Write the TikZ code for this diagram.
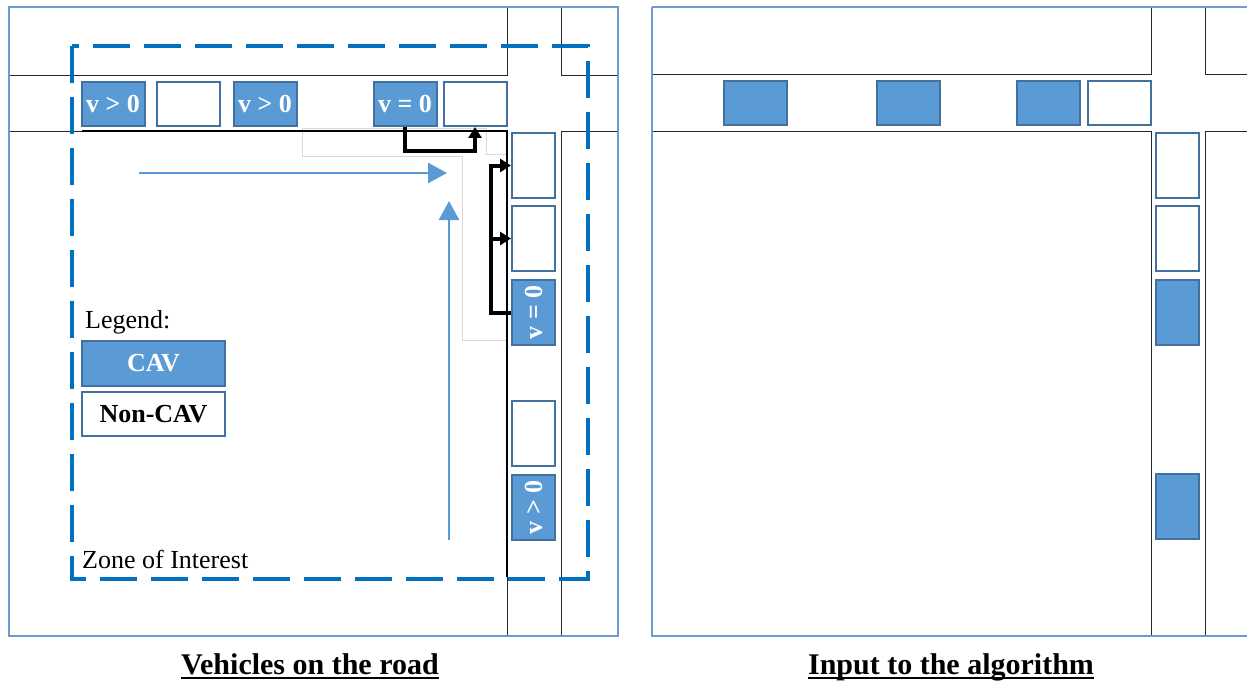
\documentclass[tikz,border=0pt]{standalone}
\usepackage{fontspec}
\setmainfont{Liberation Serif}
\usetikzlibrary{arrows.meta}
\definecolor{cavfill}{HTML}{5B9BD5}
\definecolor{cavedge}{HTML}{41719C}
\definecolor{framec}{HTML}{6C9BD2}
\definecolor{zonec}{HTML}{0070C0}
\definecolor{roadc}{HTML}{262626}
\definecolor{guidec}{HTML}{D9D9D9}
\definecolor{flowc}{HTML}{5B9BD5}

\begin{document}
\begin{tikzpicture}[x=1pt,y=-1pt,
  carbase/.style={draw=cavedge, line width=2pt, inner sep=0pt},
  cav/.style={carbase, fill=cavfill, text=white, font=\bfseries\fontsize{26}{26}\selectfont},
  noncav/.style={carbase, fill=white},
  hcar/.style={minimum width=63pt, minimum height=44pt},
  vcar/.style={minimum width=43pt, minimum height=65pt},
  road/.style={draw=roadc, line width=0.9pt},
  panel/.style={draw=framec, line width=2pt},
  guide/.style={draw=guidec, line width=0.8pt},
  zone/.style={draw=zonec, line width=4pt, dash pattern=on 37pt off 14pt},
  link/.style={draw=black, line width=4pt, -{Triangle[length=11pt,width=13pt]}},
  flow/.style={draw=flowc, line width=2.5pt, -{Triangle[length=19pt,width=20pt]}},
  lbl/.style={anchor=west, inner sep=0pt, font=\fontsize{26}{26}\selectfont},
  caption/.style={anchor=base, font=\bfseries\fontsize{30}{30}\selectfont, inner sep=0pt},
  rule/.style={draw=black, line width=1.6pt}
]
\fill[white] (0,0) rectangle (1247,682);
\useasboundingbox (0,0) rectangle (1247,682);

% ---------- left panel: roads ----------
\draw[road] (9,75) -- (507,75) -- (507,7);
\draw[road] (561,7) -- (561,75) -- (618,75);
\draw[road] (9,131) -- (507,131) -- (507,636);
\draw[road] (561,636) -- (561,131) -- (618,131);

% faint guides near the corner
\draw[guide] (302,156) -- (302,128) -- (486,128) -- (486,154) -- (507,154);
\draw[guide] (302,156) -- (462,156) -- (462,340) -- (507,340);

% curb of the zone
\draw[line width=2pt] (82,131) -- (507,131) -- (507,577);

\draw[panel] (9,7) rectangle (618,636);

% vehicles on the left panel
\node[cav, hcar] (c1) at (113,104) {v > 0};
\node[noncav, hcar] (n1) at (188,104) {};
\node[cav, hcar] (c2) at (265,104) {v > 0};
\node[cav, hcar] (c3) at (405,104) {v = 0};
\node[noncav, hcar] (n2) at (475,104) {};
\node[noncav, vcar] (n3) at (533.5,165.5) {};
\node[noncav, vcar] (n4) at (533.5,238.5) {};
\node[cav, vcar] (c4) at (533.5,312.5) {\rotatebox{90}{v = 0}};
\node[noncav, vcar] (n5) at (533.5,433.5) {};
\node[cav, vcar] (c5) at (533.5,507.5) {\rotatebox{90}{v > 0}};

% traffic flow
\coordinate (hs) at (139,173);
\coordinate (he) at (447,173);
\coordinate (vs) at (449,540);
\coordinate (ve) at (449,201);
\draw[flow] (hs) -- (he);
\draw[flow] (vs) -- (ve);

% links between stopped vehicle and followers
\draw[link] (c3.south) -- ++(0,24) -| (n2.south);
\draw[link] (c4.west) -- ++(-20,0) coordinate (bend) |- (n3.west);
\draw[link] (bend |- n4.west) -- (n4.west);

% legend
\node[lbl] (leg) at (85,322) {Legend:};
\node[cav, minimum width=143pt, minimum height=45pt] (lcav) at (153.5,363.5) {CAV};
\node[noncav, minimum width=143pt, minimum height=44pt, font=\bfseries\fontsize{26}{26}\selectfont] (lnon) at (153.5,414) {Non-CAV};
\node[lbl] (zlab) at (82,559) {Zone of Interest};

% zone of interest
\draw[zone] (72,46) rectangle (588,579);

% ---------- right panel ----------
\draw[road] (652,74) -- (1151,74) -- (1151,7);
\draw[road] (1205,7) -- (1205,74) -- (1247,74);
\draw[road] (652,131) -- (1151,131) -- (1151,636);
\draw[road] (1205,636) -- (1205,131) -- (1247,131);
\draw[panel] (652,7) -- (652,636) -- (1247,636);
\draw[panel] (652,7) -- (1247,7);

\node[cav, hcar] (r1) at (755.5,103.5) {};
\node[cav, hcar] (r2) at (908.5,103.5) {};
\node[cav, hcar] (r3) at (1048,103.5) {};
\node[noncav, hcar] (rn1) at (1119,103.5) {};
\node[noncav, vcar] (rn2) at (1177,165.5) {};
\node[noncav, vcar] (rn3) at (1177,238.5) {};
\node[cav, vcar] (r4) at (1177,312) {};
\node[cav, vcar] (r5) at (1177,506.5) {};

% captions, underlined just below the baseline
\node[caption] (capl) at (310,674) {Vehicles on the road};
\node[caption] (capr) at (951,674) {Input to the algorithm};
\draw[rule] ([yshift=-4pt]capl.base west) -- ([yshift=-4pt]capl.base east);
\draw[rule] ([yshift=-4pt]capr.base west) -- ([yshift=-4pt]capr.base east);
\end{tikzpicture}
\end{document}
